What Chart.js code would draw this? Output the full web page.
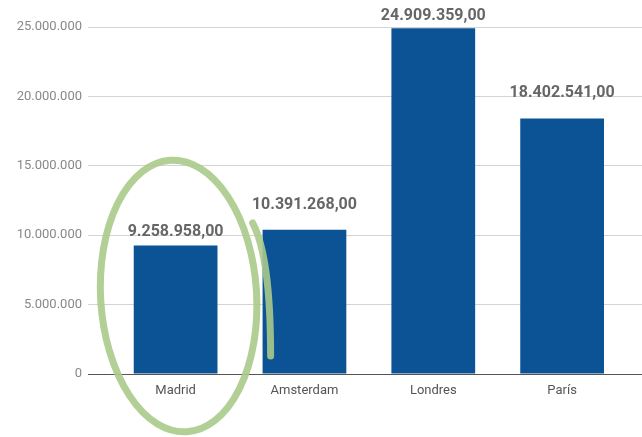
<!DOCTYPE html>
<html>
<head>
<meta charset="utf-8">
<script src="https://cdn.jsdelivr.net/npm/chart.js@4/dist/chart.umd.min.js"></script>
<style>
  html, body { margin: 0; padding: 0; background: #fff; }
  #wrap { width: 642px; height: 437px; position: relative; }
</style>
</head>
<body>
<div id="wrap"><canvas id="chart"></canvas></div>
<script>
const cities = ['Madrid', 'Amsterdam', 'Londres', 'París'];
const amounts = [9258958, 10391268, 24909359, 18402541];
const yTicks = [0, 5000000, 10000000, 15000000, 20000000, 25000000];

const fmt = (v, dec) => v.toLocaleString('de-DE', { minimumFractionDigits: dec, maximumFractionDigits: dec });

// value labels above each bar (lift differs a bit per bar, as in the original)
const barLabels = {
    id: 'barLabels',
    afterDatasetsDraw(chart, args, opts) {
        const ctx = chart.ctx;
        ctx.save();
        ctx.font = 'bold 16px Roboto';
        ctx.fillStyle = '#666';
        ctx.textAlign = 'center';
        ctx.textBaseline = 'middle';
        chart.getDatasetMeta(0).data.forEach((bar, i) => {
            ctx.fillText(fmt(amounts[i], 2), bar.x, bar.y - opts.lift[i]);
        });
        ctx.restore();
    }
};

// hand-drawn green circle around Madrid
const circleMark = {
    id: 'circleMark',
    afterDraw(chart) {
        const ctx = chart.ctx;
        const cx = chart.scales.x.getPixelForValue(0) + 3;
        const cy = chart.chartArea.bottom - 78;
        ctx.save();
        ctx.strokeStyle = 'rgba(170,202,138,0.9)';
        ctx.lineWidth = 7;
        ctx.lineCap = 'round';
        ctx.beginPath();
        ctx.ellipse(cx, cy, 78, 136, -0.06, 0, Math.PI * 2);
        ctx.stroke();
        ctx.beginPath();
        ctx.moveTo(cx + 74, cy - 73);
        ctx.quadraticCurveTo(cx + 92, cy - 40, cx + 92, cy + 60);
        ctx.stroke();
        ctx.restore();
    }
};

new Chart(document.getElementById('chart'), {
    type: 'bar',
    data: {
        datasets: [{
            data: amounts.map((v, i) => ({ x: i, y: v })),
            backgroundColor: '#0b5394',
            barPercentage: 0.65,
            categoryPercentage: 1
        }]
    },
    options: {
        responsive: true, maintainAspectRatio: false,
        animation: false,
        layout: { padding: { top: 27, right: 0, left: 0, bottom: 0 } },
        plugins: {
            legend: { display: false },
            tooltip: { enabled: false },
            barLabels: { lift: [13, 25, 12, 26] }
        },
        scales: {
            x: {
                type: 'linear',
                offset: false,
                min: -0.68, max: 3.62,
                afterBuildTicks: s => { s.ticks = cities.map((c, i) => ({ value: i })); },
                afterFit: s => { s.height = 63; },
                grid: { display: false },
                border: { display: false },
                ticks: {
                    callback: v => cities[v],
                    font: { family: 'Roboto', size: 13 },
                    color: '#555',
                    padding: 1,
                    maxRotation: 0
                }
            },
            y: {
                min: 0, max: 25000000,
                afterBuildTicks: s => { s.ticks = yTicks.map(v => ({ value: v })); },
                afterFit: s => { s.width = 88; },
                grid: {
                    color: c => c.tick && c.tick.value === 0 ? '#555' : '#d4d4d4',
                    drawTicks: false
                },
                border: { display: false },
                ticks: {
                    callback: v => fmt(v, 0),
                    font: { family: 'Roboto', size: 13 },
                    color: '#888',
                    padding: 6
                }
            }
        }
    },
    plugins: [barLabels, circleMark]
});
</script>
</body>
</html>
